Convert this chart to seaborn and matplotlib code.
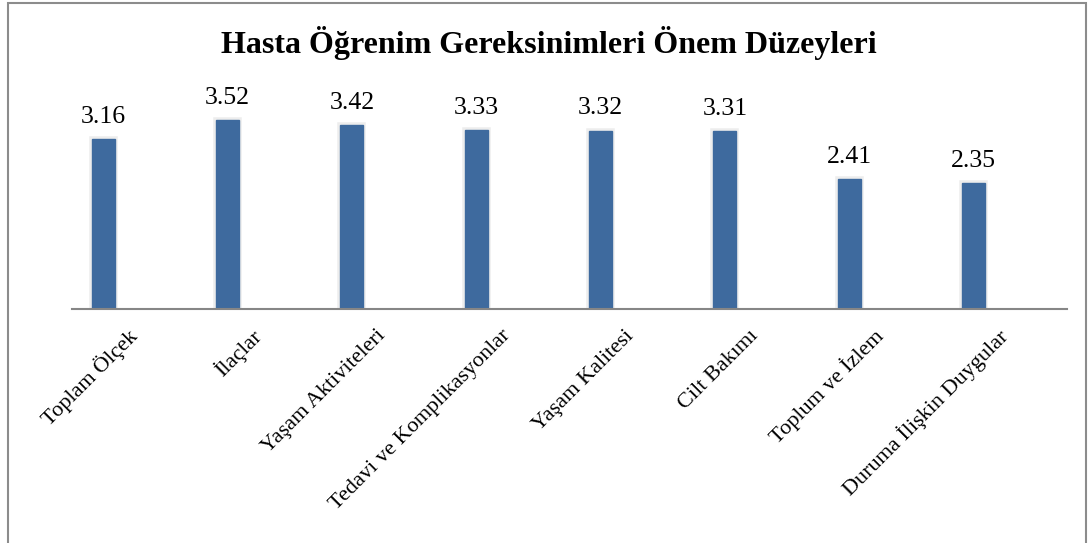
import matplotlib
matplotlib.use("Agg")
import matplotlib.pyplot as plt
import matplotlib.patheffects as pe
from matplotlib.transforms import ScaledTranslation
from matplotlib.patches import Rectangle
import pandas as pd
import seaborn as sns

# Veriler
kategoriler = ["Toplam Ölçek", "İlaçlar", "Yaşam Aktiviteleri", "Tedavi ve Komplikasyonlar",
               "Yaşam Kalitesi", "Cilt Bakımı", "Toplum ve İzlem", "Duruma İlişkin Duygular"]
puanlar = [3.16, 3.52, 3.42, 3.33, 3.32, 3.31, 2.41, 2.35]
baslik = "Hasta Öğrenim Gereksinimleri Önem Düzeyleri"

df = pd.DataFrame({"alan": kategoriler, "puan": puanlar})

sns.set_theme(style="white")
plt.rcParams["font.family"] = ["Liberation Serif", "DejaVu Serif"]
plt.rcParams["text.color"] = "black"
plt.rcParams["xtick.color"] = "black"

fig = plt.figure(figsize=(10.9, 5.43), dpi=100)
ax = fig.add_axes([72 / 1090, 1 - 309 / 543, (1067 - 72) / 1090, 215 / 543])

sns.barplot(data=df, x="alan", y="puan", color="#3E6A9E", saturation=1, width=0.185, ax=ax)

for bar in ax.patches:
    bar.set_path_effects([pe.Stroke(linewidth=4, foreground="#d9d9d9", alpha=0.45), pe.Normal()])
    bar.set_edgecolor("#3E6A9E")

ax.bar_label(ax.containers[0], labels=[f"{v:.2f}" for v in puanlar], padding=8, fontsize=18.5)

ax.set_ylim(0, 4)
ax.set_xlim(-0.25, len(kategoriler) - 0.25)
ax.set_xlabel("")
ax.set_ylabel("")
ax.set_yticks([])
for s in ["top", "right", "left"]:
    ax.spines[s].set_visible(False)
ax.spines["bottom"].set_color("#868686")
ax.spines["bottom"].set_linewidth(1.5)

ax.tick_params(axis="x", length=0, pad=0)
ax.set_xticks(range(len(kategoriler)))
ax.set_xticklabels(kategoriler, rotation=45, ha="right", va="center", rotation_mode="anchor", fontsize=16)
kaydir = ScaledTranslation(0.31, -0.24, fig.dpi_scale_trans)
for lbl in ax.get_xticklabels():
    lbl.set_transform(lbl.get_transform() + kaydir)

fig.text(549 / 1090, 1 - 53 / 543, baslik, ha="center", va="baseline", fontsize=23, fontweight="bold")

# Grafik çerçevesi
fig.patches.append(Rectangle((8 / 1090, -0.05), (1086 - 8) / 1090, 1.05 - 3.5 / 543,
                             transform=fig.transFigure, fill=False, edgecolor="#8c8c8c", linewidth=1.5))

fig.savefig("out.png", dpi=100, facecolor="white")
